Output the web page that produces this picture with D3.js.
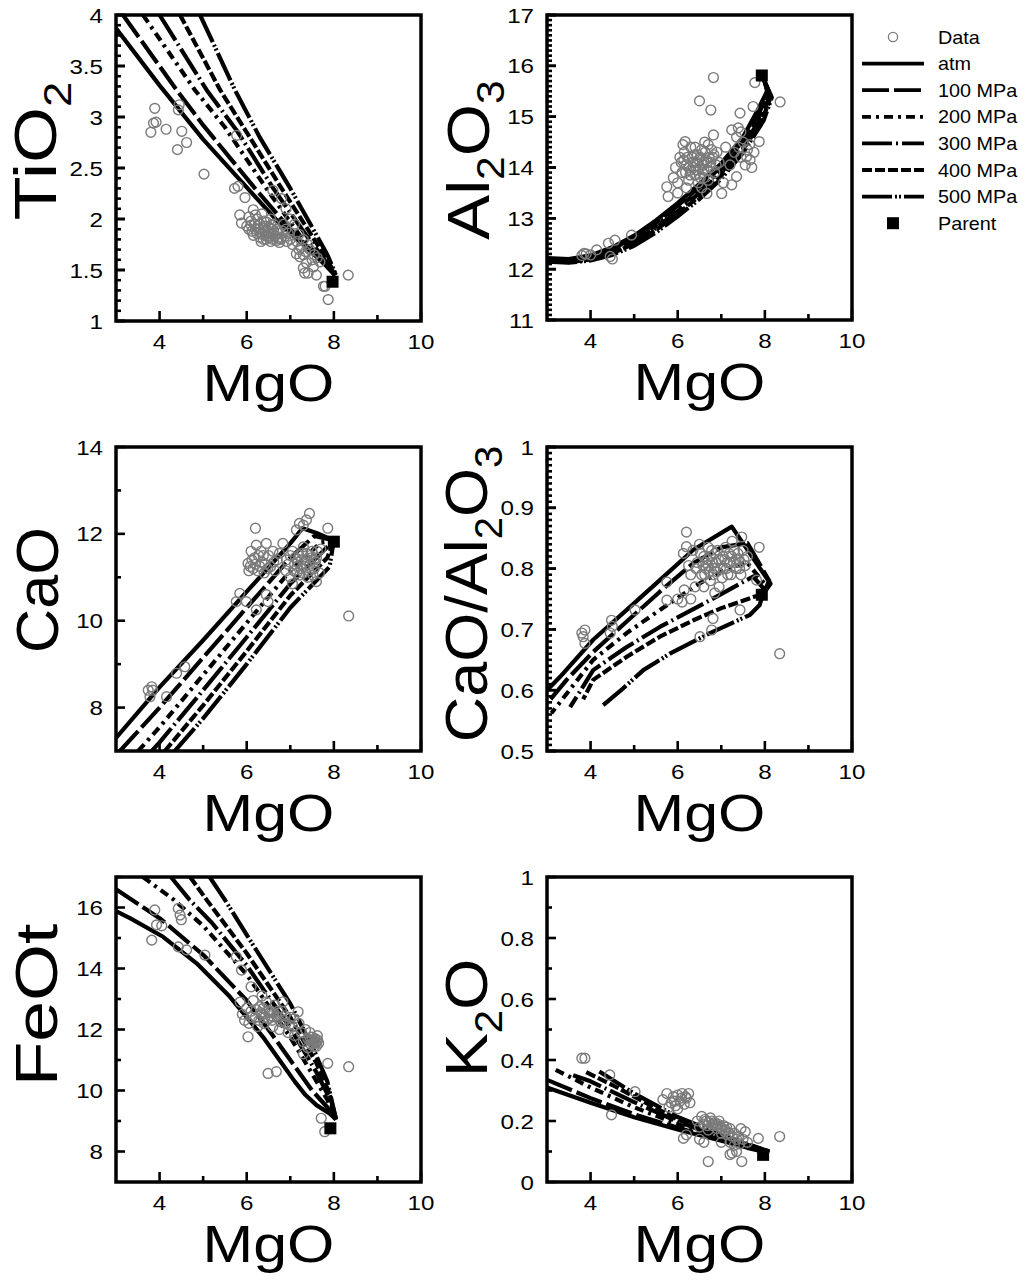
<!DOCTYPE html>
<html>
<head>
<meta charset="utf-8">
<script src="https://cdn.jsdelivr.net/npm/d3@7"></script>
<style>
  body { margin: 0; background: #fff; }
  text { font-family: "Liberation Sans", Arial, sans-serif; fill: #000; }
</style>
</head>
<body>
<script>
// series names and line dashes (atm .. 500 MPa)
var pressures = ["atm", "100 MPa", "200 MPa", "300 MPa", "400 MPa", "500 MPa"];
var dashes = [null, "27,5", "9,5,3,5", "30,4,2,4", "10,3", "30,3,2,2,2,3"];

var mgoTicks = [4, 6, 8, 10];
var mgoMinor = [5, 7, 9];

// ---- TiO2 ----
var tio2Ticks = [1, 1.5, 2, 2.5, 3, 3.5, 4];
var tio2Parent = [7.97, 1.385];
var tio2Data = [[3.89,3.085],[4.45,3.12],[4.43,3.07],[3.86,2.94],[3.92,2.95],[3.8,2.85],[4.15,2.88],[4.51,2.86],[4.62,2.75],[4.41,2.68],[5.02,2.44],[5.77,2.82],[5.72,2.3],[5.8,2.32],[5.96,2.21],
  [5.84,2.04],[5.88,1.96],[6.15,2.09],[6.0,1.93],[6.05,2.02],[6.1,1.98],[6.2,1.9],[6.23,1.86],[6.3,1.95],[6.35,2.05],[6.4,1.88],[6.46,1.83],[6.5,1.92],[6.55,2.0],[6.6,1.85],[6.69,1.79],[6.7,1.9],[6.8,1.82],[6.85,1.95],[6.92,1.78],[6.95,1.86],[7.0,1.8],[6.25,2.0],[6.12,1.88],[6.38,1.8],[6.55,1.78],[6.62,1.95],[6.05,1.9],[6.3,1.82],[6.45,1.97],
  [6.18,1.95],[6.28,1.9],[6.35,1.85],[6.42,1.93],[6.48,1.87],[6.52,1.82],[6.58,1.9],[6.65,1.83],[6.72,1.86],[6.78,1.8],[6.4,1.98],[6.2,2.04],[6.1,1.94],[6.33,1.78],[6.6,1.8],[6.88,1.83],[6.75,1.77],[6.15,1.84],
  [6.25,1.93],[6.38,1.91],[6.5,1.86],[6.62,1.88],[6.72,1.81],[6.83,1.88],[6.45,1.8],[6.56,1.94],[6.3,1.87],[6.9,1.9],
  [6.9,2.1],[7.0,2.0],[7.1,1.95],[7.2,1.85],[7.3,1.8],[7.4,1.75],[7.45,1.7],[7.55,1.65],[7.2,1.7],[7.3,1.65],[6.8,2.2],[6.6,2.28],[7.05,1.75],[7.15,1.78],[7.25,1.72],[7.35,1.68],[7.5,1.6],[7.62,1.62],
  [7.22,1.63],[7.37,1.57],[7.41,1.47],[7.33,1.47],[7.53,1.53],[7.14,1.66],[7.68,1.58],[7.3,1.52],[7.6,1.45],[8.33,1.45],[7.8,1.34],[7.87,1.21],[7.76,1.34]];
var tio2Curves = [
  [[3,3.87],[4,3.31],[5,2.78],[6,2.31],[6.75,1.96],[7.35,1.73],[7.8,1.55],[8.02,1.45]],
  [[3.16,4],[4.39,3.265],[5,2.92],[6.19,2.3],[7,1.9],[7.5,1.68],[7.9,1.52],[8.03,1.45]],
  [[3.62,4],[4.81,3.265],[5.5,2.9],[6.45,2.3],[7.2,1.85],[7.7,1.6],[8.03,1.45]],
  [[4.0,4],[5.08,3.265],[5.8,2.85],[6.61,2.3],[7.3,1.88],[7.75,1.62],[8.04,1.45]],
  [[4.47,4],[5.39,3.265],[6.0,2.85],[6.8,2.3],[7.4,1.9],[7.8,1.63],[8.05,1.45]],
  [[4.93,4],[5.73,3.265],[6.3,2.8],[7.0,2.3],[7.5,1.92],[7.85,1.65],[8.05,1.45]]
];

// ---- Al2O3 ----
var al2o3Ticks = [11, 12, 13, 14, 15, 16, 17];
var al2o3Parent = [7.93, 15.81];
var al2o3Data = [[6.82,15.77],[6.5,15.31],[6.76,15.13],[7.77,15.67],[8.35,15.29],[7.73,15.2],[7.43,15.07],[6.82,14.64],[6.17,14.51],[7.87,14.51],[7.24,14.74],[7.39,14.78],
  [5.75,13.62],[5.78,13.43],[5.9,13.8],[5.95,14.0],[6.0,13.7],[6.05,14.2],[6.1,13.9],[6.15,14.3],[6.2,14.05],[6.25,13.75],[6.3,14.4],[6.35,14.1],[6.4,13.85],[6.45,14.25],[6.5,14.0],[6.55,14.35],[6.6,13.8],[6.65,14.15],[6.7,14.45],[6.75,14.0],[6.8,14.2],[6.85,13.9],[6.9,14.3],[6.95,14.1],[6.0,13.5],[6.2,13.6],[6.12,14.45],[6.4,14.4],[6.62,14.5],[6.3,13.95],[6.55,13.6],[6.67,13.49],[7.01,13.49],
  [6.22,14.2],[6.28,13.85],[6.38,14.25],[6.42,13.95],[6.48,14.15],[6.52,13.8],[6.58,14.05],[6.63,14.3],[6.68,13.95],[6.72,14.2],[6.78,14.35],[6.88,14.05],[6.08,14.1],[6.18,13.9],[6.33,14.2],[6.47,13.7],[6.6,14.1],[6.7,13.75],
  [6.36,14.0],[6.44,14.1],[6.52,14.2],[6.6,13.95],[6.68,14.1],[6.76,14.1],[6.25,14.0],[6.14,14.15],[6.83,14.25],[6.57,13.9],
  [7.35,13.82],[7.24,13.66],[7.66,14.15],[7.58,14.21],[7.1,14.4],[7.3,14.3],[7.5,14.5],[7.45,14.2],[7.6,14.35],[7.2,14.05],[7.7,14.0],[7.75,14.3],[7.05,13.7],[7.35,14.6],[7.45,14.7],[7.55,14.05],[7.65,14.45],[7.4,14.4],
  [4.56,12.57],[4.41,12.51],[4.94,12.67],[4.45,12.25],[4.5,12.2],[3.85,12.31],[3.8,12.27],[4.14,12.38],[3.9,12.3],[4.0,12.28]];
var al2o3Curves = [
  [[3,12.22],[3.5,12.2],[4,12.27],[4.5,12.43],[5,12.66],[5.5,12.96],[6,13.3],[6.5,13.68],[7,14.08],[7.5,14.6],[7.85,15.15],[8.05,15.5],[8.0,15.68],[7.95,15.8]],
  [[3,12.2],[3.5,12.18],[4,12.25],[4.5,12.4],[5,12.62],[5.5,12.91],[6,13.25],[6.5,13.62],[7,14.02],[7.5,14.53],[7.88,15.1],[8.08,15.47],[8.0,15.68],[7.95,15.8]],
  [[3,12.18],[3.5,12.16],[4,12.23],[4.5,12.37],[5,12.58],[5.5,12.86],[6,13.2],[6.5,13.56],[7,13.96],[7.5,14.47],[7.9,15.05],[8.1,15.44],[8.0,15.68],[7.95,15.8]],
  [[3,12.17],[3.5,12.15],[4,12.21],[4.5,12.34],[5,12.54],[5.5,12.81],[6,13.14],[6.5,13.5],[7,13.9],[7.5,14.41],[7.92,15.0],[8.12,15.42],[8.0,15.68],[7.95,15.8]],
  [[3,12.16],[3.5,12.14],[4,12.19],[4.5,12.31],[5,12.5],[5.5,12.77],[6,13.09],[6.5,13.44],[7,13.84],[7.5,14.35],[7.95,14.96],[8.14,15.4],[8.0,15.68],[7.95,15.8]],
  [[3,12.15],[3.5,12.13],[4,12.17],[4.5,12.28],[5,12.46],[5.5,12.72],[6,13.04],[6.5,13.38],[7,13.78],[7.5,14.29],[7.97,14.92],[8.16,15.38],[8.0,15.68],[7.95,15.8]]
];

// ---- CaO ----
var caoTicks = [8, 10, 12, 14];
var caoMinor = [9, 11, 13];
var caoParent = [8.0, 11.82];
var caoData = [[6.2,12.13],[6.22,11.74],[6.45,11.78],[6.03,11.32],[6.15,11.2],[6.27,11.5],[6.1,11.6],[6.35,11.35],[6.4,11.1],[6.05,11.15],[6.3,11.25],[6.5,11.5],[6.55,11.25],[6.6,11.6],[6.7,11.4],[5.84,10.63],[5.76,10.44],[5.99,10.44],[6.22,10.25],[6.49,10.44],[6.45,10.6],
  [6.12,11.4],[6.2,11.3],[6.25,11.15],[6.38,11.5],[6.42,11.3],[6.48,11.2],[6.62,11.35],[6.65,11.15],[6.75,11.55],[6.08,11.25],[6.18,11.45],[6.33,11.6],
  [6.83,11.78],[6.91,11.4],[7.05,11.6],[7.1,11.3],[7.15,11.1],[7.2,11.5],[7.25,11.2],[7.3,11.7],[7.35,11.4],[7.4,11.0],[7.45,11.3],[7.5,11.6],[7.55,11.2],[7.6,11.45],[7.67,11.1],[7.0,11.0],[6.9,11.15],
  [6.95,11.3],[7.0,11.5],[7.08,11.15],[7.18,11.35],[7.22,11.05],[7.28,11.55],[7.32,11.25],[7.38,11.55],[7.42,11.15],[7.48,11.45],[7.52,11.05],[7.58,11.35],[7.62,11.6],[7.05,10.85],
  [7.12,11.45],[7.26,11.4],[7.36,11.3],[7.46,11.5],[7.54,11.4],[7.3,11.1],[7.16,11.25],
  [7.21,12.24],[7.37,12.32],[7.44,12.47],[7.14,12.09],[7.3,12.2],[7.86,12.13],[8.34,10.11],[3.82,8.48],[3.84,8.4],[3.74,8.4],[3.78,8.25],[4.39,8.79],[4.58,8.94],[4.16,8.25],[7.6,10.9],[7.7,11.65]];
var caoCurves = [
  [[3,7.3],[4,8.47],[5,9.55],[6,10.67],[7,11.78],[7.28,12.13],[7.6,12.02],[8.0,11.85]],
  [[3.09,7],[4,8.0],[5,9.15],[6,10.3],[7,11.45],[7.55,11.95],[8.0,11.85]],
  [[3.51,7],[4,7.55],[5,8.75],[6,9.95],[7,11.15],[7.7,11.8],[8.0,11.85]],
  [[3.82,7],[4,7.2],[5,8.4],[6,9.62],[7,10.85],[7.75,11.6],[8.0,11.85]],
  [[4.12,7],[5,8.05],[6,9.3],[7,10.58],[7.85,11.45],[8.0,11.85]],
  [[4.35,7],[5,7.75],[6,9.0],[7,10.3],[7.9,11.24],[8.0,11.85]]
];

// ---- CaO/Al2O3 ----
var ratioTicks = [0.5, 0.6, 0.7, 0.8, 0.9, 1];
var ratioParent = [7.93, 0.757];
var ratioData = [[6.2,0.86],[7.87,0.835],[7.47,0.852],[6.2,0.836],[6.13,0.825],
  [6.35,0.83],[6.45,0.81],[6.5,0.84],[6.55,0.79],[6.6,0.82],[6.65,0.8],[6.7,0.835],[6.75,0.78],[6.8,0.81],[6.85,0.825],[6.9,0.795],[6.95,0.77],[7.0,0.815],[7.05,0.8],[7.1,0.835],[7.15,0.79],[7.2,0.81],[7.3,0.83],[7.35,0.8],[7.4,0.815],[7.45,0.79],[7.5,0.83],[7.55,0.805],[7.6,0.82],[6.4,0.77],[6.6,0.77],[6.3,0.79],[6.25,0.805],[7.25,0.845],[6.85,0.76],
  [6.42,0.8],[6.52,0.825],[6.58,0.805],[6.68,0.815],[6.72,0.795],[6.78,0.83],[6.88,0.81],[6.92,0.83],[6.98,0.8],[7.08,0.815],[7.12,0.8],[7.18,0.825],[7.28,0.81],[7.38,0.825],[7.42,0.8],[7.52,0.815],[6.62,0.79],[6.82,0.79],[7.02,0.785],[7.22,0.79],
  [6.7,0.805],[6.76,0.82],[6.84,0.8],[6.94,0.815],[7.04,0.82],[7.14,0.81],[7.24,0.82],[7.34,0.815],[7.44,0.81],[6.64,0.81],
  [5.75,0.778],[5.75,0.748],[6.0,0.75],[6.15,0.765],[6.81,0.718],[7.43,0.732],[6.78,0.699],[6.51,0.688],[8.34,0.66],[3.87,0.699],[3.83,0.688],[3.8,0.694],[3.87,0.677],[4.48,0.715],[4.5,0.705],[4.45,0.694],[5.02,0.732],[7.81,0.781],[6.1,0.745],[6.3,0.75]];
var ratioCurves = [
  [[3,0.6],[3.3,0.622],[4.06,0.683],[4.83,0.732],[5.59,0.781],[6.36,0.831],[7.24,0.869],[8.13,0.775],[7.95,0.757]],
  [[7.95,0.757],[8.1,0.78],[7.6,0.842],[7.0,0.835],[6.36,0.809],[5.59,0.762],[4.83,0.713],[4.06,0.663],[3.45,0.617],[3.0,0.578]],
  [[7.95,0.757],[8.05,0.77],[7.58,0.811],[7.0,0.795],[6.51,0.776],[5.59,0.732],[4.83,0.694],[4.06,0.65],[3.1,0.562]],
  [[7.95,0.757],[8.0,0.765],[7.73,0.787],[6.74,0.748],[5.59,0.704],[4.83,0.671],[4.06,0.633],[3.53,0.572]],
  [[7.95,0.757],[7.77,0.754],[7.0,0.735],[6.36,0.715],[5.59,0.688],[4.83,0.655],[4.06,0.617],[3.83,0.585]],
  [[7.95,0.757],[7.88,0.74],[7.66,0.724],[6.74,0.694],[5.82,0.66],[5.21,0.633],[4.7,0.6],[4.25,0.573]]
];

// ---- FeOt ----
var feotTicks = [8, 10, 12, 14, 16];
var feotMinor = [9, 11, 13, 15, 17];
var feotParent = [7.92, 8.76];
var feotData = [[3.89,15.92],[3.82,14.93],[3.93,15.43],[4.05,15.4],[4.43,15.97],[4.47,15.75],[4.5,15.6],[4.43,14.71],[4.62,14.61],[5.04,14.44],[5.76,14.39],[5.88,13.95],
  [5.85,12.9],[5.9,12.5],[5.95,12.3],[6.0,12.7],[6.05,12.2],[6.1,12.6],[6.15,12.95],[6.2,12.4],[6.25,12.1],[6.3,12.75],[6.35,12.5],[6.4,12.2],[6.45,12.9],[6.5,12.35],[6.55,12.6],[6.6,12.1],[6.65,12.8],[6.7,12.4],[6.75,12.0],[6.8,12.6],[6.83,12.91],[6.9,12.2],[6.95,11.9],[7.0,12.4],[7.05,12.1],[7.1,11.8],[7.18,12.58],[7.2,12.2],[7.25,11.9],[7.3,11.6],[7.35,12.0],[7.4,11.7],[7.45,11.9],[7.48,11.5],[7.5,11.75],[7.55,11.6],[7.6,11.45],[7.62,11.8],[7.65,11.55],[7.4,11.4],[7.3,11.2],
  [6.12,12.4],[6.22,12.65],[6.28,12.3],[6.38,12.7],[6.42,12.4],[6.52,12.55],[6.58,12.3],[6.62,12.55],[6.72,12.6],[6.78,12.25],[6.88,12.45],[6.98,12.15],[7.08,12.35],[7.52,11.55],[7.57,11.7],[7.63,11.65],[7.55,11.45],[7.45,11.65],
  [6.32,12.55],[6.48,12.6],[6.56,12.45],[6.68,12.45],[6.85,12.3],[7.6,11.6],[7.5,11.65],[7.58,11.55],
  [6.03,11.76],[6.49,10.56],[6.68,10.62],[7.86,10.89],[8.34,10.78],[7.71,9.09],[7.79,8.65],[6.35,13.1],[6.1,13.4]];
var feotCurves = [
  [[3,15.88],[3.32,15.65],[4.08,15.04],[4.85,14.17],[5.61,13.08],[6.37,11.76],[6.8,10.9],[7.1,10.3],[7.35,9.85],[7.6,9.52],[7.9,9.25],[8.05,9.05]],
  [[3,16.6],[4,15.65],[5,14.45],[6,12.95],[6.6,11.8],[7,11.0],[7.5,10.0],[7.85,9.45],[8.05,9.05]],
  [[3.62,17],[4.33,16.25],[5,15.4],[6,13.8],[7,11.75],[7.5,10.55],[7.85,9.7],[8.05,9.05]],
  [[4.26,17],[4.69,16.25],[5.2,15.5],[6,14.1],[7,12.05],[7.6,10.6],[7.9,9.75],[8.05,9.05]],
  [[4.7,17],[5.08,16.25],[6,14.5],[7,12.4],[7.6,10.9],[7.9,9.9],[8.05,9.05]],
  [[5.15,17],[5.5,16.25],[6,15.1],[7,12.85],[7.55,11.3],[7.85,10.3],[8.05,9.05]]
];

// ---- K2O ----
var k2oTicks = [0, 0.2, 0.4, 0.6, 0.8, 1];
var k2oMinor = [0.1, 0.3, 0.5, 0.7, 0.9];
var k2oParent = [7.96, 0.089];
var k2oData = [[3.8,0.406],[3.87,0.406],[4.44,0.351],[4.48,0.22],[5.02,0.296],
  [5.66,0.27],[5.75,0.29],[5.85,0.26],[5.9,0.28],[5.95,0.25],[6.0,0.285],[6.05,0.265],[6.1,0.29],[6.15,0.255],[6.2,0.275],[6.25,0.29],[6.28,0.26],[5.8,0.245],[6.0,0.24],[5.92,0.265],[6.08,0.275],[6.18,0.28],
  [6.45,0.2],[6.5,0.18],[6.55,0.215],[6.6,0.19],[6.65,0.2],[6.7,0.17],[6.75,0.21],[6.8,0.185],[6.85,0.195],[6.9,0.175],[6.95,0.2],[7.0,0.16],[7.05,0.185],[7.1,0.17],[7.15,0.155],[7.2,0.175],[7.3,0.16],[7.4,0.15],[7.45,0.175],[7.5,0.14],[7.55,0.165],[7.6,0.13],[7.2,0.13],[7.3,0.12],[7.35,0.1],
  [6.62,0.205],[6.72,0.195],[6.78,0.2],[6.88,0.185],[6.98,0.18],[7.08,0.165],[7.25,0.15],[7.35,0.14],[7.42,0.125],
  [6.68,0.185],[6.82,0.19],[6.92,0.19],[7.02,0.175],[7.12,0.18],[7.18,0.16],
  [7.85,0.143],[8.34,0.149],[6.7,0.067],[7.47,0.067],[7.2,0.09],[7.25,0.095],[6.13,0.143],[6.2,0.155],[6.5,0.14],[6.6,0.13],[7.0,0.13]];
var k2oCurves = [
  [[3,0.31],[4,0.26],[5,0.212],[6,0.172],[7,0.135],[7.6,0.112],[8.1,0.095]],
  [[3,0.335],[4,0.275],[5,0.222],[6,0.178],[7,0.138],[7.6,0.114],[8.1,0.097]],
  [[3.2,0.368],[4,0.31],[5,0.245],[6,0.19],[7,0.142],[7.6,0.116],[8.1,0.098]],
  [[3.6,0.35],[4,0.33],[5,0.262],[6,0.198],[7,0.146],[8.1,0.099]],
  [[3.9,0.36],[4.5,0.318],[5,0.28],[6,0.205],[7,0.15],[8.1,0.1]],
  [[4.2,0.362],[5,0.29],[6,0.213],[7,0.155],[8.1,0.1]]
];

function range(a, b, s) { return d3.range(Math.round(a / s), Math.round(b / s) + 1).map(function(i) { return +(i * s).toFixed(3); }); }

var panels = [
  {title: [["TiO", 0], ["2", 1]], domain: [1, 4], ticks: tio2Ticks, minor: range(1, 4, 0.1), data: tio2Data, curves: tio2Curves, parent: tio2Parent,
   x0: 116, x1: 421, y0: 15, y1: 321, tx: 56, ty: 151, tsx: 1.2},
  {title: [["Al", 0], ["2", 1], ["O", 0], ["3", 1]], domain: [11, 17], ticks: al2o3Ticks, minor: range(11, 17, 0.1), data: al2o3Data, curves: al2o3Curves, parent: al2o3Parent,
   x0: 547, x1: 852, y0: 15, y1: 320, tx: 489, ty: 160, tsx: 1.12},
  {title: [["CaO", 0]], domain: [7, 14], ticks: caoTicks, minor: caoMinor, data: caoData, curves: caoCurves, parent: caoParent,
   x0: 116, x1: 421, y0: 447, y1: 751, tx: 58, ty: 590, tsx: 1.02},
  {title: [["CaO/Al", 0], ["2", 1], ["O", 0], ["3", 1]], domain: [0.5, 1], ticks: ratioTicks, minor: range(0.5, 1, 0.01), data: ratioData, curves: ratioCurves, parent: ratioParent,
   x0: 547, x1: 852, y0: 447, y1: 751, tx: 487, ty: 594, tsx: 1.05},
  {title: [["FeOt", 0]], domain: [7, 17], ticks: feotTicks, minor: feotMinor, data: feotData, curves: feotCurves, parent: feotParent,
   x0: 116, x1: 421, y0: 877, y1: 1182, tx: 57, ty: 1005, tsx: 1.22},
  {title: [["K", 0], ["2", 1], ["O", 0]], domain: [0, 1], ticks: k2oTicks, minor: k2oMinor, data: k2oData, curves: k2oCurves, parent: k2oParent,
   x0: 547, x1: 852, y0: 877, y1: 1182, tx: 487, ty: 1018, tsx: 1.1}
];

var svg = d3.select("body").append("svg")
    .attr("width", 1027)
    .attr("height", 1281);

var fmt = d3.format("~g");

panels.forEach(function(p, pi) {
  var x = d3.scaleLinear().domain([3, 10]).range([p.x0, p.x1]);
  var y = d3.scaleLinear().domain(p.domain).range([p.y1, p.y0]);
  var g = svg.append("g");

  g.append("clipPath").attr("id", "clip" + pi)
    .append("rect").attr("x", p.x0).attr("y", p.y0)
    .attr("width", p.x1 - p.x0).attr("height", p.y1 - p.y0);

  var line = d3.line()
      .x(function(d) { return x(d[0]); })
      .y(function(d) { return y(d[1]); });

  // model curves
  g.append("g").attr("clip-path", "url(#clip" + pi + ")")
    .selectAll("path").data(p.curves).enter().append("path")
    .attr("d", line)
    .attr("fill", "none")
    .attr("stroke", "#000")
    .attr("stroke-width", 4.2)
    .attr("stroke-linejoin", "round")
    .attr("stroke-dasharray", function(d, i) { return dashes[i]; });

  // samples
  g.append("g").attr("clip-path", "url(#clip" + pi + ")")
    .selectAll("circle").data(p.data).enter().append("circle")
    .attr("cx", function(d) { return x(d[0]); })
    .attr("cy", function(d) { return y(d[1]); })
    .attr("r", 4.9)
    .attr("fill", "none")
    .attr("stroke", "#7a7a7a")
    .attr("stroke-width", 1.4);

  // parent
  g.append("rect")
    .attr("x", x(p.parent[0]) - 6).attr("y", y(p.parent[1]) - 6)
    .attr("width", 12).attr("height", 12)
    .attr("fill", "#000");

  // inward ticks
  var tk = g.append("g").attr("stroke", "#000").attr("stroke-width", 2.6);
  mgoTicks.concat(mgoMinor).forEach(function(v) {
    var len = mgoTicks.indexOf(v) >= 0 ? 10 : 6;
    tk.append("line").attr("x1", x(v)).attr("x2", x(v)).attr("y1", p.y1).attr("y2", p.y1 - len);
  });
  p.minor.concat(p.ticks).forEach(function(v) {
    var len = p.ticks.indexOf(v) >= 0 ? 9 : 5;
    tk.append("line").attr("x1", p.x0).attr("x2", p.x0 + len).attr("y1", y(v)).attr("y2", y(v));
  });

  // frame
  g.append("rect")
    .attr("x", p.x0).attr("y", p.y0)
    .attr("width", p.x1 - p.x0).attr("height", p.y1 - p.y0)
    .attr("fill", "none").attr("stroke", "#000").attr("stroke-width", 3.5);

  // tick labels
  mgoTicks.forEach(function(v) {
    g.append("text")
      .attr("transform", "translate(" + x(v) + "," + (p.y1 + 28) + ") scale(1.15,1)")
      .attr("text-anchor", "middle")
      .style("font-size", "21px")
      .text(fmt(v));
  });
  p.ticks.forEach(function(v) {
    g.append("text")
      .attr("transform", "translate(" + (p.x0 - 13) + "," + (y(v) + 7.5) + ") scale(1.15,1)")
      .attr("text-anchor", "end")
      .style("font-size", "21px")
      .text(fmt(v));
  });

  // axis titles
  g.append("text")
    .attr("transform", "translate(" + ((p.x0 + p.x1) / 2) + "," + (p.y1 + 80) + ") scale(1.17,1)")
    .attr("text-anchor", "middle")
    .style("font-size", "52px")
    .text("MgO");

  var t = g.append("text")
    .attr("transform", "translate(" + p.tx + "," + p.ty + ") rotate(-90) scale(" + p.tsx + ",1)")
    .attr("text-anchor", "middle")
    .style("font-size", "60px");
  var low = false;
  p.title.forEach(function(part) {
    var s = t.append("tspan").text(part[0]);
    if (part[1] && !low) { s.attr("dy", 15).style("font-size", "38px"); low = true; }
    else if (!part[1] && low) { s.attr("dy", -15); low = false; }
    else if (part[1]) { s.style("font-size", "38px"); }
  });
});

// legend
var lg = svg.append("g");
var rows = ["Data"].concat(pressures).concat(["Parent"]);
rows.forEach(function(name, i) {
  var cy = 37 + i * 26.6;
  if (i === 0) {
    lg.append("circle").attr("cx", 893).attr("cy", cy).attr("r", 4.6)
      .attr("fill", "none").attr("stroke", "#7a7a7a").attr("stroke-width", 1.3);
  } else if (i === rows.length - 1) {
    lg.append("rect").attr("x", 887).attr("y", cy - 6).attr("width", 12).attr("height", 12).attr("fill", "#000");
  } else {
    lg.append("line").attr("x1", 862).attr("x2", 924).attr("y1", cy).attr("y2", cy)
      .attr("stroke", "#000").attr("stroke-width", 3.8)
      .attr("stroke-dasharray", dashes[i - 1]);
  }
  lg.append("text")
    .attr("transform", "translate(938," + (cy + 6.5) + ") scale(1.1,1)")
    .style("font-size", "18px")
    .text(name);
});
</script>
</body>
</html>
